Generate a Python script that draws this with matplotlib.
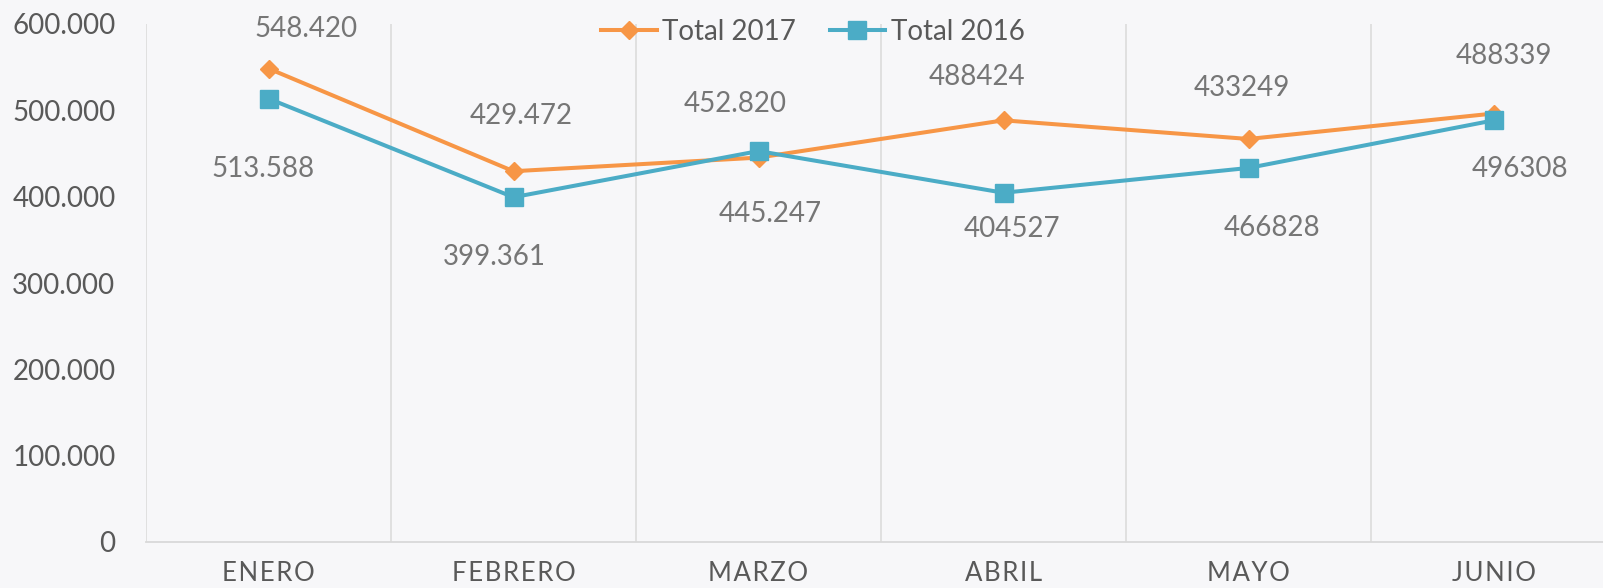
import matplotlib
matplotlib.use("Agg")
import matplotlib.pyplot as plt

categories = ["ENERO", "FEBRERO", "MARZO", "ABRIL", "MAYO", "JUNIO"]
total_2017 = [548420, 429472, 445247, 488424, 466828, 496308]
total_2016 = [513588, 399361, 452820, 404527, 433249, 488339]
labels_2017 = ["548.420", "429.472", "452.820", "488424", "433249", "488339"]
labels_2016 = ["513.588", "399.361", "445.247", "404527", "466828", "496308"]
yticks = [0, 100000, 200000, 300000, 400000, 500000, 600000]
ytick_labels = ["0", "100.000", "200.000", "300.000", "400.000", "500.000", "600.000"]

# label offsets in pixels (dx, dy up)
off_2017 = [(38, 40), (8, 55), (-23, 54), (-27, 43), (-7, 51), (10, 58)]
off_2016 = [(-5, -70), (-19, -60), (12, -63), (8, -36), (23, -60), (26, -49)]

BG = "#F7F7F9"
ORANGE = "#F79646"
BLUE = "#4BACC6"
FONT = ["Lato", "DejaVu Sans"]

fig = plt.figure(figsize=(16.03, 5.88), dpi=100, facecolor=BG)
W, H = 1603, 588
left, right = 146, 146 + 6 * 245
y0, ytop = 542, 24
ax = fig.add_axes([left / W, 1 - y0 / H, (right - left) / W, (y0 - ytop) / H])
ax.set_facecolor(BG)
ax.patch.set_alpha(0)

x = list(range(len(categories)))
ax.plot(x, total_2017, color=ORANGE, lw=2.9, marker="D", ms=9.5,
        label="Total 2017", zorder=3, solid_joinstyle="round")
ax.plot(x, total_2016, color=BLUE, lw=2.9, marker="s", ms=13,
        label="Total 2016", zorder=3, solid_joinstyle="round")

for xi, v, t, (dx, dy) in zip(x, total_2017, labels_2017, off_2017):
    ax.annotate(t, (xi, v), xytext=(dx, dy), textcoords="offset pixels",
                ha="center", va="center", fontsize=20, color="#767676", family=FONT)
for xi, v, t, (dx, dy) in zip(x, total_2016, labels_2016, off_2016):
    ax.annotate(t, (xi, v), xytext=(dx, dy), textcoords="offset pixels",
                ha="center", va="center", fontsize=20, color="#767676", family=FONT)

ax.set_xlim(-0.5, len(categories) - 0.5)
ax.set_ylim(0, 600000)
for b in range(len(categories) + 1):
    ax.axvline(b - 0.5, color="#D9D9D9", lw=1.1, zorder=1)

ax.set_yticks(yticks)
ax.set_yticklabels(ytick_labels, fontsize=20, color="#595959", family=FONT)
spaced = ["\u200a".join(c) for c in categories]
ax.set_xticks(x)
ax.set_xticklabels(spaced, fontsize=18.5, color="#595959", family=FONT)
ax.tick_params(axis="y", length=0, pad=22)
ax.tick_params(axis="x", length=0, pad=14)
for s in ["left", "right", "top"]:
    ax.spines[s].set_visible(False)
ax.spines["bottom"].set_color("#D9D9D9")
ax.spines["bottom"].set_linewidth(1.3)

leg = fig.legend(loc="center", bbox_to_anchor=(813 / W, 1 - 32 / H), ncol=2,
                 frameon=False, handlelength=2.0, handletextpad=0.2,
                 columnspacing=1.2, prop={"family": FONT, "size": 20})
for t in leg.get_texts():
    t.set_color("#595959")

fig.savefig("out.png", dpi=100, facecolor=BG)
